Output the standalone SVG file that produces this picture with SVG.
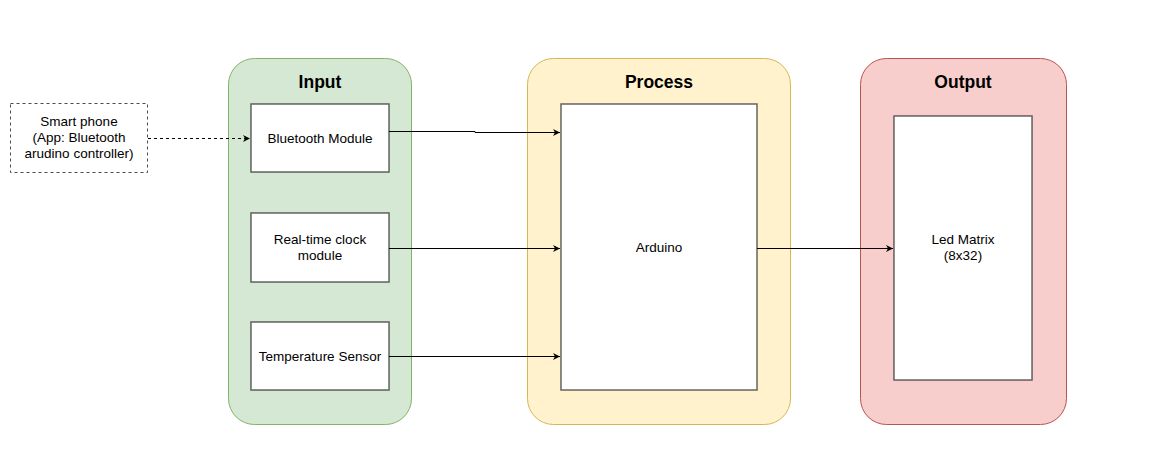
<svg xmlns="http://www.w3.org/2000/svg" width="1175" height="455" viewBox="0 0 1175 455">
<style>
text{font-family:"Liberation Sans",Arial,sans-serif;fill:#000;text-anchor:middle}
.t{font-size:17.5px;font-weight:bold}
.l{font-size:13.5px}
.box{fill:#fff;stroke:#000;stroke-opacity:0.6;stroke-width:1.5}
.c{fill:none;stroke:#000;stroke-width:1}
</style>
<defs>
<marker id="ar" markerWidth="10" markerHeight="10" refX="8" refY="5" orient="auto" markerUnits="userSpaceOnUse">
<path d="M1,1.5 L8,5 L1,8.5 L3,5 Z" fill="#000"/>
</marker>
</defs>
<rect width="1175" height="455" fill="#fff"/>
<g id="input">
<rect x="228.5" y="58.5" width="183" height="366" rx="26" fill="#d5e8d4" stroke="#82b366"/>
<text class="t" x="320" y="88">Input</text>
</g>
<g id="process">
<rect x="527.5" y="58.5" width="263" height="366" rx="26" fill="#fff2cc" stroke="#d6b656"/>
<text class="t" x="659" y="88">Process</text>
</g>
<g id="output">
<rect x="860.5" y="58.5" width="206" height="366" rx="26" fill="#f8cecc" stroke="#b85450"/>
<text class="t" x="963" y="88">Output</text>
</g>
<g id="smartphone">
<rect x="10.5" y="103.5" width="137" height="69" fill="#fff" stroke="#000" stroke-opacity="0.7" stroke-dasharray="3,3"/>
<text class="l" x="79" y="126">Smart phone</text>
<text class="l" x="79" y="142">(App: Bluetooth</text>
<text class="l" x="79" y="158">arudino controller)</text>
</g>
<g id="bluetooth">
<rect class="box" x="251" y="104" width="138" height="68"/>
<text class="l" x="320" y="143">Bluetooth Module</text>
</g>
<g id="rtc">
<rect class="box" x="251" y="213" width="138" height="69"/>
<text class="l" x="320" y="244">Real-time clock</text>
<text class="l" x="320" y="260">module</text>
</g>
<g id="temp">
<rect class="box" x="251" y="322" width="138" height="68"/>
<text class="l" x="320" y="361">Temperature Sensor</text>
</g>
<g id="arduino">
<rect class="box" x="561" y="104" width="196" height="286"/>
<text class="l" x="659" y="252">Arduino</text>
</g>
<g id="ledmatrix">
<rect class="box" x="894" y="116" width="138" height="264"/>
<text class="l" x="963" y="244">Led Matrix</text>
<text class="l" x="963" y="260">(8x32)</text>
</g>
<g id="connectors">
<path class="c" d="M148,138.5 H250" stroke-dasharray="3,3" marker-end="url(#ar)"/>
<path class="c" d="M389,131.5 H475 V132.5 H560" marker-end="url(#ar)"/>
<path class="c" d="M389,248.5 H560" marker-end="url(#ar)"/>
<path class="c" d="M389,356.5 H560" marker-end="url(#ar)"/>
<path class="c" d="M757,248.5 H893" marker-end="url(#ar)"/>
</g>
</svg>
